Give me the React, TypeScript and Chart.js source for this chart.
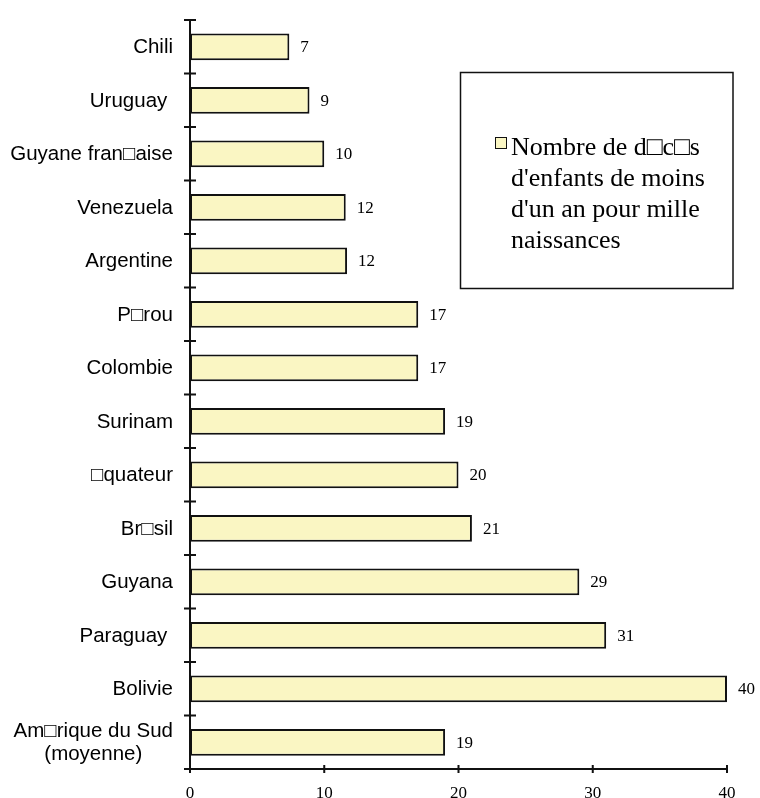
import { useEffect, useRef } from "react";
import { Chart, registerables } from "chart.js";

Chart.register(...registerables);

// Infant mortality per 1000 births, South American countries
const countries: (string | string[])[] = [
  "Chili",
  "Uruguay ",
  "Guyane fran□aise",
  "Venezuela",
  "Argentine",
  "P□rou",
  "Colombie",
  "Surinam",
  "□quateur",
  "Br□sil",
  "Guyana",
  "Paraguay ",
  "Bolivie",
  ["Am□rique du Sud", "(moyenne)"],
];

const mortality = [7.4, 8.9, 10.0, 11.6, 11.7, 17, 17, 19, 20, 21, 29, 31, 40, 19];

const xTicks = [0, 10, 20, 30, 40];

const legendLines = [
  "Nombre de d□c□s",
  "d'enfants de moins",
  "d'un an pour mille",
  "naissances",
];

const BAR_FILL = "#FAF6C3";
const INK = "#111111";
const SANS = '"Liberation Sans", Arial, "DejaVu Sans", sans-serif';
const SERIF = '"Liberation Serif", "Times New Roman", "DejaVu Serif", serif';

const decorations = {
  id: "decorations",
  afterDatasetsDraw(chart: any) {
    const { ctx } = chart;
    const meta = chart.getDatasetMeta(0);
    ctx.save();
    ctx.fillStyle = "#000";
    ctx.font = `17px ${SERIF}`;
    ctx.textAlign = "left";
    ctx.textBaseline = "middle";
    meta.data.forEach((bar: any, i: number) => {
      ctx.fillText(String(Math.round(mortality[i])), bar.x + 11, bar.y + 1);
    });
    ctx.restore();
  },
  afterDraw(chart: any) {
    const { ctx, chartArea, scales } = chart;
    const xs = scales.x;
    const ys = scales.y;
    const x0 = xs.getPixelForValue(0);
    const xEnd = xs.getPixelForValue(xTicks[xTicks.length - 1]);
    ctx.save();
    ctx.strokeStyle = INK;
    ctx.lineWidth = 2;

    // axis lines
    ctx.beginPath();
    ctx.moveTo(x0, chartArea.top);
    ctx.lineTo(x0, chartArea.bottom);
    ctx.moveTo(x0, chartArea.bottom);
    ctx.lineTo(xEnd, chartArea.bottom);
    ctx.stroke();

    // category boundary ticks crossing the vertical axis
    const n = countries.length;
    const step = n > 1 ? ys.getPixelForValue(1) - ys.getPixelForValue(0) : 0;
    ctx.beginPath();
    for (let i = 0; i <= n; i++) {
      const yy = ys.getPixelForValue(0) - step / 2 + i * step;
      ctx.moveTo(x0 - 6, yy);
      ctx.lineTo(x0 + 6, yy);
    }
    // value ticks crossing the horizontal axis
    xTicks.forEach((v) => {
      const px = xs.getPixelForValue(v);
      ctx.moveTo(px, chartArea.bottom - 4);
      ctx.lineTo(px, chartArea.bottom + 4);
    });
    ctx.stroke();

    // category labels
    ctx.fillStyle = "#000";
    ctx.font = `20.5px ${SANS}`;
    ctx.textBaseline = "middle";
    const labelRight = x0 - 17;
    countries.forEach((label, i) => {
      const yc = ys.getPixelForValue(i) + 1;
      if (Array.isArray(label)) {
        const widest = Math.max(...label.map((l) => ctx.measureText(l).width));
        ctx.textAlign = "center";
        const lh = 23;
        label.forEach((line, j) => {
          ctx.fillText(line, labelRight - widest / 2, yc + (j - (label.length - 1) / 2) * lh);
        });
      } else {
        ctx.textAlign = "right";
        ctx.fillText(label, labelRight, yc);
      }
    });

    // legend box
    const bx = 460.5, by = 72.5, bw = 272.5, bh = 216;
    ctx.lineWidth = 1.5;
    ctx.strokeStyle = INK;
    ctx.strokeRect(bx, by, bw, bh);
    ctx.fillStyle = BAR_FILL;
    ctx.fillRect(495.5, 137.5, 11, 11);
    ctx.lineWidth = 1;
    ctx.strokeRect(495.5, 137.5, 11, 11);
    ctx.fillStyle = "#000";
    ctx.font = `26px ${SERIF}`;
    ctx.textAlign = "left";
    ctx.textBaseline = "alphabetic";
    legendLines.forEach((line, j) => {
      ctx.fillText(line, 511, 155 + j * 31);
    });
    ctx.restore();
  },
};

export default function App() {
  const canvasRef = useRef<HTMLCanvasElement | null>(null);

  useEffect(() => {
    if (!canvasRef.current) return;
    const chart = new Chart(canvasRef.current, {
      type: "bar",
      data: {
        labels: countries,
        datasets: [
          {
            label: legendLines.join(" "),
            data: mortality,
            backgroundColor: BAR_FILL,
            borderColor: INK,
            borderWidth: 2,
            borderSkipped: false,
            barPercentage: 0.5,
            categoryPercentage: 1,
          },
        ],
      },
      options: {
        indexAxis: "y",
        responsive: false,
        animation: false,
        devicePixelRatio: 1,
        layout: { padding: { top: 20, right: 33, left: 0, bottom: 0 } },
        plugins: {
          legend: { display: false },
          tooltip: { enabled: false },
          title: { display: false },
        },
        scales: {
          x: {
            type: "linear",
            min: 0,
            max: 40,
            grid: { display: false, drawTicks: false },
            border: { display: false },
            ticks: {
              stepSize: 10,
              color: "#000",
              font: { family: SERIF, size: 17 },
              padding: 14,
            },
            afterFit: (s: any) => {
              s.height = 29;
            },
          },
          y: {
            type: "category",
            grid: { display: false, drawTicks: false },
            border: { display: false },
            ticks: { display: false },
            afterFit: (s: any) => {
              s.width = 190;
            },
          },
        },
      },
      plugins: [decorations],
    });
    return () => chart.destroy();
  }, []);

  return (
    <div
      style={{
        position: "absolute",
        left: 0,
        top: 0,
        width: 760,
        height: 798,
        background: "#fff",
      }}
    >
      <canvas ref={canvasRef} width={760} height={798} style={{ display: "block" }} />
    </div>
  );
}
